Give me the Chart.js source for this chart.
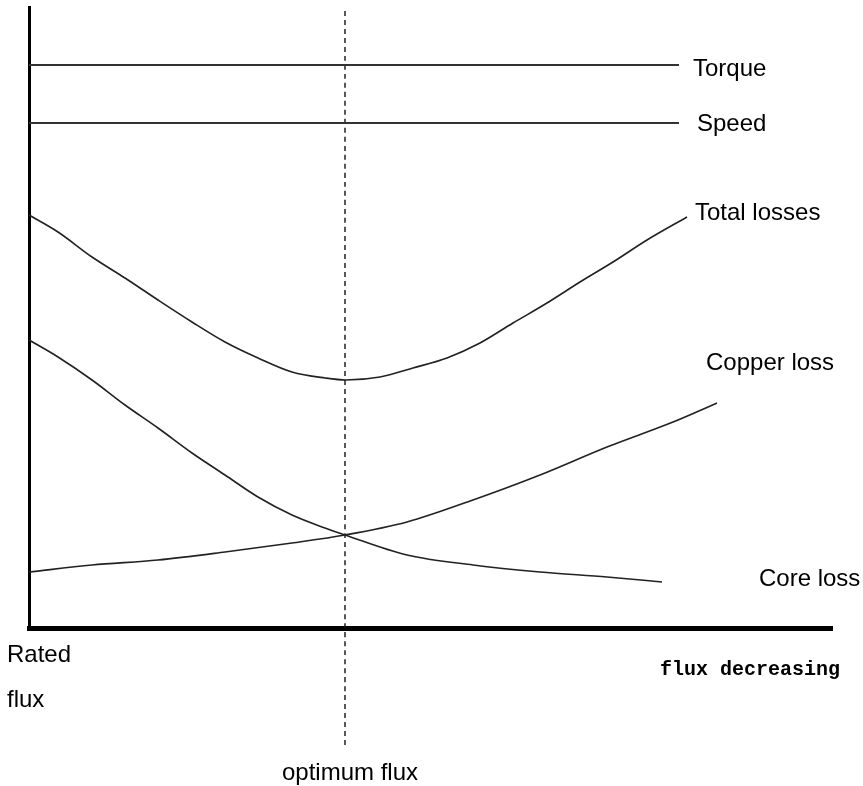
<!DOCTYPE html>
<html>
<head>
<meta charset="utf-8">
<title>Flux optimisation</title>
<script src="https://cdn.jsdelivr.net/npm/chart.js@4"></script>
<style>
  html, body { margin: 0; padding: 0; background: #fff; }
  #wrap { width: 863px; height: 786px; position: relative; }
</style>
</head>
<body>
<div id="wrap"><canvas id="chart"></canvas></div>
<script>
// --- datos (x: flux decreasing from rated flux, y: arbitrary units) ---
const torqueX = [0, 650];
const torqueY = [563, 563];

const speedX = [0, 650];
const speedY = [505, 505];

const totalX = [0, 29, 63, 96, 129, 163, 196, 229, 263, 296, 317, 351, 384, 418, 451, 484, 518, 551, 584, 618, 658];
const totalY = [413, 396, 371, 350, 328, 306, 286, 270, 256, 250, 248, 251, 260, 270, 285, 305, 325, 346, 366, 388, 411];

const coreX = [0, 29, 63, 96, 129, 163, 196, 229, 263, 296, 316, 378, 444, 511, 578, 633];
const coreY = [288, 271, 248, 223, 200, 175, 153, 131, 113, 100, 93, 73, 63, 56, 51, 46];

const copperX = [0, 63, 129, 196, 263, 316, 378, 444, 511, 578, 644, 688];
const copperY = [56, 63, 68, 76, 85, 93, 106, 128, 153, 181, 206, 225];

const optimumX = [316, 316];
const optimumY = [-117, 621];

const curveLabels = ["Torque", "Speed", "Total losses", "Copper loss", "Core loss"];
const axisLabels = ["Rated", "flux", "flux decreasing", "optimum flux"];

function pts(xs, ys) {
  return xs.map((x, i) => ({ x: x, y: ys[i] }));
}

// --- textos ---
const textPlugin = {
  id: "texts",
  afterDraw(chart) {
    const ctx = chart.ctx;
    ctx.save();
    ctx.fillStyle = "#000";
    ctx.textBaseline = "alphabetic";
    ctx.textAlign = "left";
    ctx.font = "24px 'Liberation Sans', Arial, sans-serif";
    const spots = [[693, 76], [697, 131], [695, 220], [706, 370], [759, 586]];
    curveLabels.forEach((t, i) => ctx.fillText(t, spots[i][0], spots[i][1]));
    ctx.fillText(axisLabels[0], 7, 662);
    ctx.fillText(axisLabels[1], 7, 707);
    ctx.fillText(axisLabels[3], 282, 780);
    ctx.font = "bold 20px 'Liberation Mono', 'Courier New', monospace";
    ctx.fillText(axisLabels[2], 660, 675);
    ctx.restore();
  }
};

const lineStyle = { borderColor: "#222", borderWidth: 1.6, pointRadius: 0, cubicInterpolationMode: "monotone", fill: false };

new Chart(document.getElementById("chart"), {
  type: "line",
  data: {
    datasets: [
      Object.assign({ label: curveLabels[0], data: pts(torqueX, torqueY) }, lineStyle, { borderColor: "#333", borderWidth: 2 }),
      Object.assign({ label: curveLabels[1], data: pts(speedX, speedY) }, lineStyle, { borderColor: "#333", borderWidth: 2 }),
      Object.assign({ label: curveLabels[2], data: pts(totalX, totalY) }, lineStyle),
      Object.assign({ label: curveLabels[3], data: pts(copperX, copperY) }, lineStyle),
      Object.assign({ label: curveLabels[4], data: pts(coreX, coreY) }, lineStyle),
      Object.assign({ label: axisLabels[3], data: pts(optimumX, optimumY) }, lineStyle,
        { borderColor: "#111", borderWidth: 1.4, borderDash: [5, 4], clip: false })
    ]
  },
  options: {
    responsive: true,
    maintainAspectRatio: false,
    animation: false,
    layout: { padding: { left: 29, top: 7, right: 31, bottom: 158 } },
    plugins: { legend: { display: false }, tooltip: { enabled: false } },
    scales: {
      x: {
        type: "linear", min: 0, max: 803,
        ticks: { display: false },
        grid: { display: false, drawTicks: false },
        border: { display: true, color: "#000", width: 5 }
      },
      y: {
        type: "linear", min: 0, max: 621,
        ticks: { display: false },
        grid: { display: false, drawTicks: false },
        border: { display: true, color: "#000", width: 3 }
      }
    }
  },
  plugins: [textPlugin]
});
</script>
</body>
</html>
